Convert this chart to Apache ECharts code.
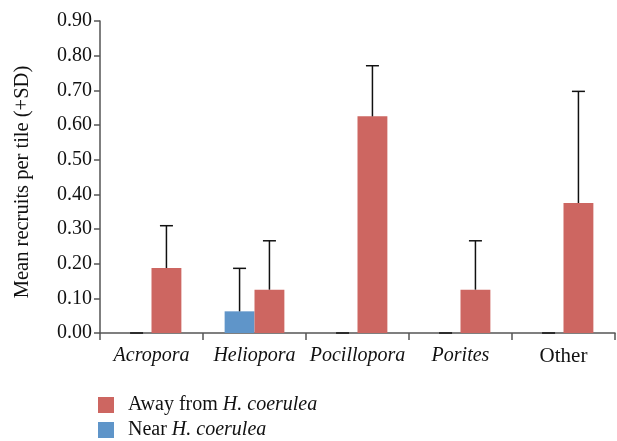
<!DOCTYPE html>
<html><head><meta charset="utf-8">
<script src="https://cdn.jsdelivr.net/npm/echarts@6/dist/echarts.min.js"></script>
<style>html,body{margin:0;padding:0;background:#fff}#c{width:617px;height:441px}</style>
</head><body><div id="c"></div>
<script>
const categories = ['Acropora', 'Heliopora', 'Pocillopora', 'Porites', 'Other'];
const italicCats = ['Acropora', 'Heliopora', 'Pocillopora', 'Porites'];
const nearMean = [0, 0.0625, 0, 0, 0];
const nearSD = [0, 0.124, 0, 0, 0];
const awayMean = [0.1875, 0.125, 0.625, 0.125, 0.375];
const awaySD = [0.122, 0.141, 0.146, 0.141, 0.322];
const seriesNames = ['Near H. coerulea', 'Away from H. coerulea'];
const yTicks = { min: 0, max: 0.9, interval: 0.1 };

const FONT = 'Liberation Serif';
const RED = '#CD6661', BLUE = '#5F95C9';
const BAR_RATIO = 0.29;

const chart = echarts.init(document.getElementById('c'), null, { renderer: 'canvas' });

function errSeries(means, sds, side) {
  return {
    type: 'custom',
    z: 5,
    silent: true,
    data: means.map((m, i) => [i, m, m + sds[i]]),
    renderItem: function (params, api) {
      const i = api.value(0);
      const bw = api.size([1, 0])[0] * BAR_RATIO;
      const base = api.coord([i, api.value(1)]);
      const top = api.coord([i, api.value(2)]);
      const x = base[0] + side * bw / 2;
      const cap = 6.5;
      return {
        type: 'group',
        children: [
          { type: 'line', shape: { x1: x, y1: base[1], x2: x, y2: top[1] }, style: { stroke: '#111', lineWidth: 1.5 } },
          { type: 'line', shape: { x1: x - cap, y1: top[1], x2: x + cap, y2: top[1] }, style: { stroke: '#111', lineWidth: 1.5 } }
        ]
      };
    }
  };
}

function legendFor(name, top) {
  return {
    orient: 'vertical',
    left: 98, top: top, padding: 0,
    itemWidth: 16, itemHeight: 16,
    data: [name],
    icon: 'rect',
    formatter: function (n) {
      const parts = n.split('H. coerulea');
      return '{n|' + parts[0] + '}{i|H. coerulea}';
    },
    textStyle: {
      fontFamily: FONT, fontSize: 20, color: '#111', padding: [0, 0, 0, 9],
      rich: {
        n: { fontFamily: FONT, fontSize: 20, color: '#111' },
        i: { fontFamily: FONT, fontSize: 20, color: '#111', fontStyle: 'italic' }
      }
    }
  };
}

const option = {
  animation: false,
  textStyle: { fontFamily: FONT },
  grid: { left: 100, right: 2, top: 21, bottom: 108, containLabel: false },
  legend: [legendFor(seriesNames[1], 395), legendFor(seriesNames[0], 420)],
  xAxis: {
    type: 'category',
    data: categories,
    axisLine: { lineStyle: { color: '#555', width: 1.5 } },
    axisTick: { show: true, length: 7, lineStyle: { color: '#555', width: 1.5 } },
    axisLabel: {
      margin: 13,
      formatter: function (v) { return italicCats.includes(v) ? '{i|' + v + '}' : '{n|' + v + '}'; },
      rich: {
        i: { fontFamily: FONT, fontSize: 20, color: '#111', fontStyle: 'italic' },
        n: { fontFamily: FONT, fontSize: 21, color: '#111' }
      }
    }
  },
  yAxis: {
    type: 'value',
    min: yTicks.min, max: yTicks.max, interval: yTicks.interval,
    name: 'Mean recruits per tile (+SD)',
    nameLocation: 'middle',
    nameGap: 67,
    nameTextStyle: { fontFamily: FONT, fontSize: 20.5, color: '#111', padding: [0, 10, 0, 0] },
    axisLine: { show: true, lineStyle: { color: '#555', width: 1.5 } },
    axisTick: { show: true, length: 6, lineStyle: { color: '#555', width: 1.5 } },
    splitLine: { show: false },
    axisLabel: {
      margin: 8, fontFamily: FONT, fontSize: 20, color: '#111',
      formatter: v => v.toFixed(2)
    }
  },
  series: [
    { name: seriesNames[0], type: 'bar', data: nearMean, barWidth: (BAR_RATIO * 100) + '%', barGap: '0%', itemStyle: { color: BLUE } },
    { name: seriesNames[1], type: 'bar', data: awayMean, barWidth: (BAR_RATIO * 100) + '%', barGap: '0%', itemStyle: { color: RED } },
    errSeries(nearMean, nearSD, -1),
    errSeries(awayMean, awaySD, 1)
  ]
};
chart.setOption(option);
</script></body></html>
